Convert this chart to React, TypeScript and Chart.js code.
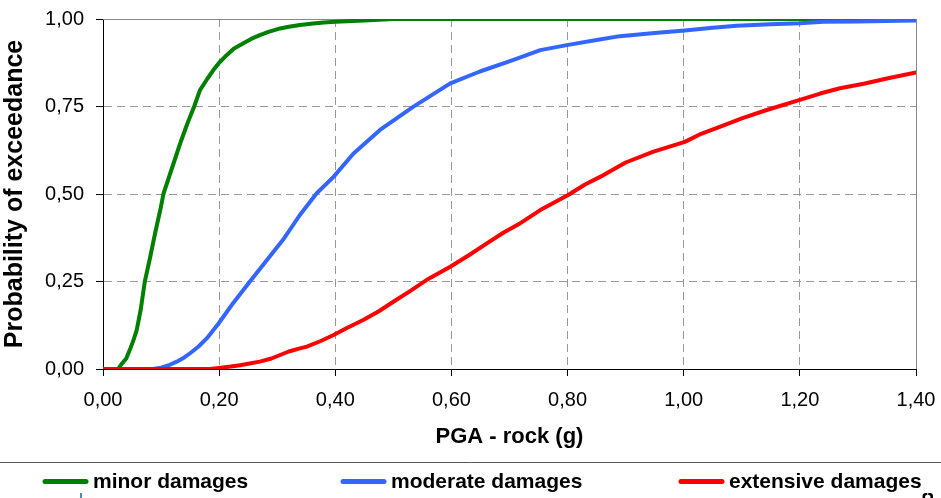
import React, { useEffect, useRef } from "react";
import { Chart, registerables } from "chart.js";

Chart.register(...registerables);

// ---- data ----
const minorX = [0, 0.02, 0.026, 0.03, 0.04, 0.046, 0.052, 0.058, 0.065, 0.072, 0.08, 0.09, 0.1, 0.104, 0.11, 0.12, 0.133, 0.145, 0.157, 0.167, 0.18, 0.19, 0.2, 0.21, 0.225, 0.241, 0.255, 0.27, 0.285, 0.305, 0.32, 0.339, 0.362, 0.38, 0.4, 0.45, 0.5, 0.6, 0.8, 1.0, 1.2, 1.4];
const minorY = [0, 0, 0, 0.01, 0.03, 0.054, 0.08, 0.111, 0.17, 0.25, 0.31, 0.39, 0.465, 0.5, 0.53, 0.58, 0.645, 0.7, 0.75, 0.797, 0.83, 0.854, 0.875, 0.892, 0.915, 0.93, 0.943, 0.954, 0.963, 0.973, 0.978, 0.983, 0.987, 0.99, 0.992, 0.996, 1, 1, 1, 1, 1, 1];

const moderateX = [0, 0.086, 0.1, 0.115, 0.127, 0.14, 0.15, 0.165, 0.179, 0.199, 0.224, 0.253, 0.282, 0.31, 0.339, 0.368, 0.397, 0.431, 0.477, 0.534, 0.598, 0.649, 0.707, 0.753, 0.801, 0.85, 0.89, 0.95, 1.002, 1.05, 1.091, 1.15, 1.2, 1.24, 1.3, 1.372, 1.4];
const moderateY = [0, 0, 0.004, 0.012, 0.021, 0.033, 0.045, 0.065, 0.088, 0.13, 0.188, 0.25, 0.311, 0.369, 0.44, 0.502, 0.549, 0.615, 0.683, 0.749, 0.816, 0.85, 0.883, 0.911, 0.926, 0.94, 0.951, 0.96, 0.967, 0.975, 0.981, 0.985, 0.988, 0.992, 0.993, 0.995, 0.996];

const extensiveX = [0, 0.184, 0.2, 0.22, 0.236, 0.25, 0.27, 0.29, 0.305, 0.32, 0.339, 0.351, 0.375, 0.397, 0.42, 0.448, 0.475, 0.5, 0.53, 0.557, 0.598, 0.63, 0.661, 0.69, 0.718, 0.753, 0.801, 0.83, 0.862, 0.9, 0.948, 1.002, 1.03, 1.062, 1.1, 1.143, 1.2, 1.235, 1.269, 1.31, 1.35, 1.4];
const extensiveY = [0, 0, 0.003, 0.007, 0.011, 0.015, 0.021, 0.03, 0.04, 0.05, 0.059, 0.064, 0.08, 0.097, 0.117, 0.14, 0.165, 0.192, 0.224, 0.254, 0.292, 0.325, 0.359, 0.39, 0.416, 0.454, 0.497, 0.527, 0.554, 0.59, 0.621, 0.649, 0.672, 0.692, 0.716, 0.74, 0.769, 0.787, 0.802, 0.815, 0.83, 0.847];

const seriesLabels = ["minor damages", "moderate damages", "extensive damages"];
const seriesColors = ["#008000", "#3366FF", "#FF0000"];

const xTitle = "PGA - rock (g)";
const yTitle = "Probability of exceedance";

const FONT = "'Liberation Sans', Arial, sans-serif";

const toPoints = (xs: number[], ys: number[]) => xs.map((x, i) => ({ x, y: ys[i] }));
const fmt = (v: number) => Number(v).toFixed(2).replace(".", ",");

// layout for the custom legend (positions only)
const legendStarts = [43, 341, 679];
const legendLineLen = 45;
const legendY = 481.5;

const framePlugin = {
  id: "frame",
  beforeDatasetsDraw(chart: any) {
    const { ctx, chartArea: a } = chart;
    ctx.save();
    ctx.strokeStyle = "#888888";
    ctx.lineWidth = 1;
    ctx.beginPath();
    ctx.moveTo(a.left, a.top + 0.5);
    ctx.lineTo(a.right + 0.5, a.top + 0.5);
    ctx.lineTo(a.right + 0.5, a.bottom);
    ctx.stroke();
    ctx.restore();
  },
  afterDraw(chart: any) {
    const { ctx, width, height } = chart;
    ctx.save();
    // separator line
    ctx.strokeStyle = "#555555";
    ctx.lineWidth = 1;
    ctx.beginPath();
    ctx.moveTo(0, 462.5);
    ctx.lineTo(width, 462.5);
    ctx.stroke();
    // legend
    chart.data.datasets.forEach((ds: any, i: number) => {
      const x0 = legendStarts[i];
      ctx.strokeStyle = ds.borderColor;
      ctx.lineWidth = 5;
      ctx.lineCap = "round";
      ctx.beginPath();
      ctx.moveTo(x0 + 2, legendY);
      ctx.lineTo(x0 + legendLineLen - 2, legendY);
      ctx.stroke();
      ctx.fillStyle = "#000";
      ctx.font = `bold 21px ${FONT}`;
      ctx.textBaseline = "alphabetic";
      ctx.textAlign = "left";
      ctx.fillText(ds.label, x0 + legendLineLen + 5, 488);
    });
    // cut-off bits of the next figure at the bottom edge
    ctx.fillStyle = "#4a8fb0";
    ctx.fillRect(80, 493, 2, height - 493);
    ctx.fillStyle = "#000";
    ctx.font = `bold 20px ${FONT}`;
    ctx.textBaseline = "top";
    ctx.fillText("{}", 920, 492);
    ctx.restore();
  },
};

export default function App() {
  const ref = useRef<HTMLCanvasElement | null>(null);

  useEffect(() => {
    document.body.style.margin = "0";
    const canvas = ref.current;
    if (!canvas) return;
    const chart = new Chart(canvas, {
      type: "line",
      data: {
        datasets: [
          { label: seriesLabels[0], data: toPoints(minorX, minorY), borderColor: seriesColors[0], backgroundColor: seriesColors[0], order: 3 },
          { label: seriesLabels[1], data: toPoints(moderateX, moderateY), borderColor: seriesColors[1], backgroundColor: seriesColors[1], order: 2 },
          { label: seriesLabels[2], data: toPoints(extensiveX, extensiveY), borderColor: seriesColors[2], backgroundColor: seriesColors[2], order: 1 },
        ],
      },
      options: {
        responsive: false,
        animation: false,
        layout: { padding: { left: 0, right: 25, top: 19, bottom: 36 } },
        plugins: { legend: { display: false }, tooltip: { enabled: false } },
        elements: {
          point: { radius: 0 },
          line: { tension: 0, borderWidth: 4, borderCapStyle: "round", borderJoinStyle: "round" },
        },
        scales: {
          x: {
            type: "linear",
            min: 0,
            max: 1.4,
            afterFit: (s: any) => {
              s.height = 93;
              s.paddingLeft = 0;
              s.paddingRight = 0;
              s.paddingTop = 0;
              s.paddingBottom = 0;
            },
            ticks: {
              stepSize: 0.2,
              callback: (v: any) => fmt(v),
              font: { family: FONT, size: 20 },
              color: "#000",
              padding: 12,
              maxRotation: 0,
              autoSkip: false,
            },
            grid: { color: "#999999", tickColor: "#000", tickLength: 7, tickBorderDash: [], lineWidth: 1 },
            border: { display: true, color: "#000", width: 1, dash: [8, 5] },
            title: { display: true, text: xTitle, color: "#000", font: { family: FONT, size: 22, weight: "bold" }, padding: { top: 0, bottom: 12 } },
          },
          y: {
            type: "linear",
            min: 0,
            max: 1,
            afterFit: (s: any) => {
              s.width = 103;
              s.paddingLeft = 0;
              s.paddingRight = 0;
              s.paddingTop = 0;
              s.paddingBottom = 0;
            },
            ticks: {
              stepSize: 0.25,
              callback: (v: any) => fmt(v),
              font: { family: FONT, size: 20 },
              color: "#000",
              padding: 12,
            },
            grid: { color: "#999999", tickColor: "#000", tickLength: 7, tickBorderDash: [], lineWidth: 1 },
            border: { display: true, color: "#000", width: 1, dash: [8, 5] },
            title: { display: true, text: yTitle, color: "#000", font: { family: FONT, size: 25, weight: "bold" }, padding: { top: 0, bottom: 0 } },
          },
        },
      } as any,
      plugins: [framePlugin],
    });
    return () => chart.destroy();
  }, []);

  return <canvas ref={ref} width={941} height={498} style={{ display: "block" }} />;
}
